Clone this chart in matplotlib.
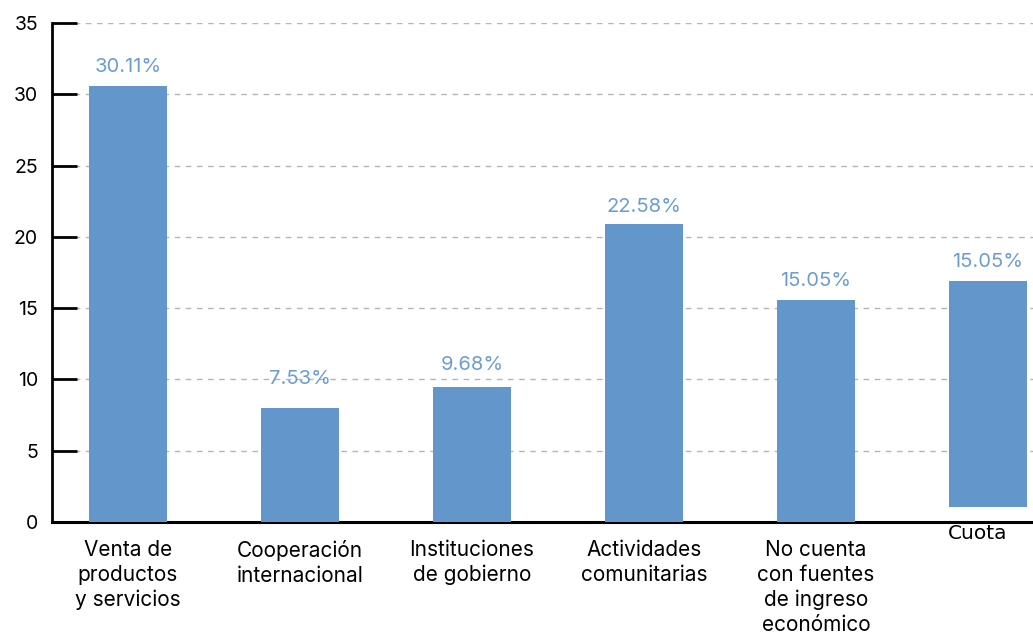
import numpy as np
import matplotlib.pyplot as plt
from matplotlib.transforms import ScaledTranslation

categories=['Venta de\nproductos\ny servicios','Cooperación\ninternacional','Instituciones\nde gobierno',
            'Actividades\ncomunitarias','No cuenta\ncon fuentes\nde ingreso\neconómico','Cuota']
labels=['30.11%','7.53%','9.68%','22.58%','15.05%','15.05%']
bar_tops=[30.57,8.0,9.47,20.9,15.57,16.9]
bar_bottoms=[0,0,0,0,-0.26,1.07]
label_y=[31.9,10.0,11.0,22.1,16.9,18.25]

plt.rcParams['font.family']=['Inter','DejaVu Sans']
fig=plt.figure(figsize=(10.33,6.34),dpi=100)
ax=fig.add_axes([0.0503,0.1767,0.9497,0.787])
x=np.arange(len(categories))
heights=np.array(bar_tops)-np.array(bar_bottoms)
ax.bar(x,heights,bottom=bar_bottoms,width=0.453,color='#6397cb',zorder=3)
for xi,yi,lab in zip(x,label_y,labels):
    ax.text(xi,yi,lab,ha='center',va='center',fontsize=14.5,color='#6b9dd2',zorder=4)
ax.set_xlim(-0.442,5.262)
ax.set_ylim(0,35)
ax.set_yticks(np.arange(0,36,5))
ax.yaxis.grid(True,linestyle=(0,(4,4)),color='#b5b5b5',linewidth=1,zorder=0)
ax.set_xticks(x)
ax.set_xticklabels(categories,fontsize=15,linespacing=1.3)
ax.tick_params(axis='x',length=0,pad=13)
ax.tick_params(axis='y',direction='in',length=18,width=2,labelsize=14,pad=10)
for s in ['top','right']:
    ax.spines[s].set_visible(False)
ax.spines['left'].set_linewidth(2)
ax.spines['bottom'].set_linewidth(2.2)
ax.spines['bottom'].set_zorder(2)
last=ax.get_xticklabels()[-1]
last.set_fontfamily('DejaVu Sans')
last.set_fontsize(14.5)
last.set_transform(last.get_transform()+ScaledTranslation(-0.1,0.16,fig.dpi_scale_trans))
fig.savefig('out.png',dpi=100)
